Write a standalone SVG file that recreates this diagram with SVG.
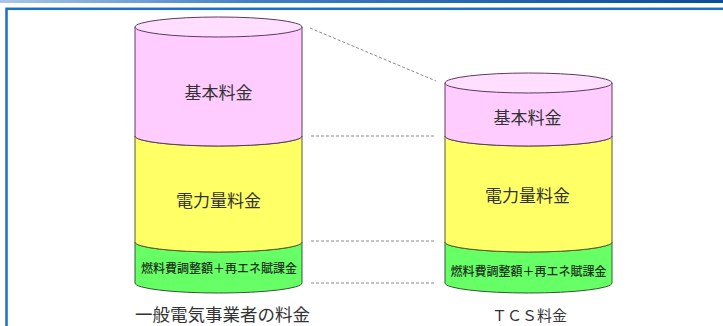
<svg xmlns="http://www.w3.org/2000/svg" width="723" height="326" viewBox="0 0 723 326">
  <defs>
    <linearGradient id="topbar" x1="0" y1="0" x2="1" y2="0">
      <stop offset="0" stop-color="#a9c6e8"/>
      <stop offset="0.35" stop-color="#3f7fc4"/>
      <stop offset="1" stop-color="#0a4c9c"/>
    </linearGradient>
    <style>
      .pink{fill:#FFCCFF;stroke:#5e3a5e;stroke-width:1}
      .pinktop{fill:#FFDEFF;stroke:#5e3a5e;stroke-width:1}
      .yellow{fill:#FFFF66;stroke:#5a5a2a;stroke-width:1}
      .green{fill:#66FF66;stroke:#2f5a2f;stroke-width:1}
      .lbl{font-family:"Noto Sans CJK JP","Noto Sans",sans-serif;fill:#333333;text-anchor:middle}
      .big{font-size:17px}
      .small{font-size:12px;fill:#1f331f;font-weight:500}
      .cap{font-family:"Noto Sans CJK JP","Noto Sans",sans-serif;fill:#333333;font-size:17.5px}
      .dash{stroke:#8a8a8a;stroke-width:1;stroke-dasharray:3 2;fill:none}
    </style>
  </defs>
  <rect x="0" y="0" width="723" height="326" fill="#ffffff"/>
  <rect x="0" y="0" width="723" height="3" fill="url(#topbar)"/>
  <rect x="6.5" y="8.8" width="730" height="330" fill="#ffffff" stroke="#1a6fc6" stroke-width="2.5"/>

  <g id="cylinder-general">
    <path class="green" d="M135,242 A83.5,10 0 0 0 302,242 L302,283 A83.5,10 0 0 1 135,283 Z"/>
    <path class="yellow" d="M135,136 A83.5,10 0 0 0 302,136 L302,242 A83.5,10 0 0 1 135,242 Z"/>
    <path class="pink" d="M135,27 L135,136 A83.5,10 0 0 0 302,136 L302,27 Z"/>
    <ellipse class="pinktop" cx="218.5" cy="27" rx="83.5" ry="10"/>
    <text class="lbl big" x="218.5" y="99">基本料金</text>
    <text class="lbl big" x="218.5" y="206.5">電力量料金</text>
    <text class="lbl small" x="219" y="273">燃料費調整額＋再エネ賦課金</text>
  </g>

  <g id="cylinder-tcs">
    <path class="green" d="M445,242 A83.5,10 0 0 0 612,242 L612,283 A83.5,10 0 0 1 445,283 Z"/>
    <path class="yellow" d="M445,136 A83.5,10 0 0 0 612,136 L612,242 A83.5,10 0 0 1 445,242 Z"/>
    <path class="pink" d="M445,83 L445,136 A83.5,10 0 0 0 612,136 L612,83 Z"/>
    <ellipse class="pinktop" cx="528.5" cy="83" rx="83.5" ry="10"/>
    <text class="lbl big" x="527.5" y="123.5">基本料金</text>
    <text class="lbl big" x="527.5" y="202">電力量料金</text>
    <text class="lbl small" x="528.5" y="275.7">燃料費調整額＋再エネ賦課金</text>
  </g>

  <g id="caption-general">
    <text class="cap" x="135" y="321">一般電気事業者の料金</text>
  </g>
  <g id="caption-tcs">
    <text class="cap" x="529.5" y="321" style="font-size:15px;text-anchor:middle">ＴＣＳ料金</text>
  </g>

  <g id="connectors">
    <line class="dash" x1="310" y1="28" x2="436" y2="81"/>
    <line class="dash" x1="311" y1="136" x2="436" y2="136"/>
    <line class="dash" x1="311" y1="241" x2="436" y2="241"/>
    <line class="dash" x1="311" y1="283" x2="436" y2="283"/>
  </g>
</svg>
